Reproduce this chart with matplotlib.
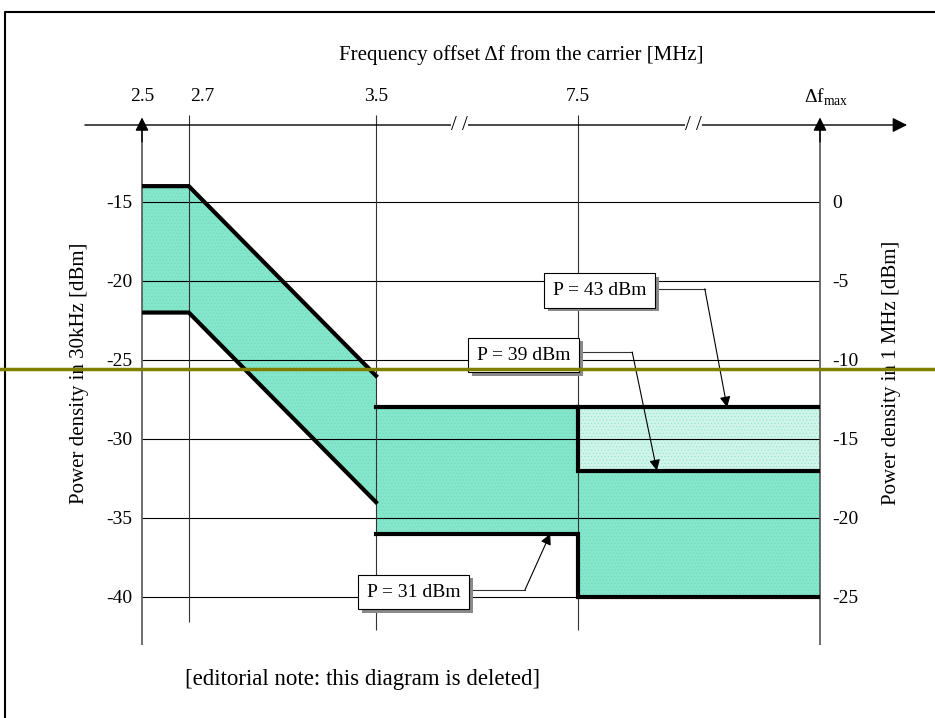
import numpy as np
import matplotlib.pyplot as plt
import matplotlib.patheffects as pe
from matplotlib import transforms
from matplotlib.lines import Line2D

plt.rcParams['font.family'] = ['Liberation Serif', 'DejaVu Serif']
plt.rcParams['mathtext.fontset'] = 'custom'
plt.rcParams['mathtext.rm'] = 'Liberation Serif'
plt.rcParams['axes.unicode_minus'] = False
plt.rcParams['hatch.linewidth'] = 0.4

# Δf_max has no number in the figure, put it at 12.5 on a broken axis
FMAX = 12.5
x_ticks = [2.5, 2.7, 3.5, 7.5, FMAX]
x_labels = ['2.5', '2.7', '3.5', '7.5', r'$\Delta$f$_{\mathrm{max}}$']
y_ticks = [-15, -20, -25, -30, -35, -40]
y_ticks_right = [0, -5, -10, -15, -20, -25]

# mask (power density in 30 kHz, dBm)
slope_f = [2.5, 2.7, 3.5]
slope_upper = [-14, -14, -26]
slope_lower = [-22, -22, -34]
p43_f = [3.5, FMAX]
p43 = [-28, -28]
p39_f = [7.5, 7.5, FMAX]
p39 = [-28, -32, -32]
p31_f = [3.5, 7.5, 7.5, FMAX]
p31 = [-36, -36, -40, -40]

# (text, box centre, elbow, arrow tip)
notes = [
    ('P = 43 dBm', (7.95, -20.6), (10.12, -20.5), (10.58, -28)),
    ('P = 39 dBm', (6.43, -24.7), (8.62, -24.5), (9.13, -32)),
    ('P = 31 dBm', (4.25, -39.7), (6.45, -39.55), (6.95, -36)),
]

# broken x axis: frequency -> drawing position
F_KNOTS = [0.0, 2.5, 3.5, 7.5, FMAX, 25.0]
P_KNOTS = [-585, 0, 234, 436, 678, 678 + 12.5 * 48.4]


def fwd(f):
    return np.interp(f, F_KNOTS, P_KNOTS)


def inv(p):
    return np.interp(p, P_KNOTS, F_KNOTS)


fig = plt.figure(figsize=(9.35, 7.18), dpi=100)
ax = fig.add_axes([142 / 935, 1 - 645 / 718, (820 - 142) / 935, (645 - 125) / 718])
ax.set_xscale('function', functions=(fwd, inv))
ax.set_xlim(2.5, FMAX)
y_bot, y_top = -43.04, -10.13
ax.set_ylim(y_bot, y_top)
for s in ax.spines.values():
    s.set_visible(False)
ax.set_xticks([])

teal = '#84E6CB'
light = '#CFF4EA'
ax.fill_between(slope_f, slope_lower, slope_upper, fc=teal, ec='#70d8ba', hatch='.....', lw=0, zorder=1)
ax.fill_between(p31_f[:2], p31[:2], p43[0], fc=teal, ec='#70d8ba', hatch='.....', lw=0, zorder=1)
ax.fill_between(p39_f[1:], p31[2:], p39[1:], fc=teal, ec='#70d8ba', hatch='.....', lw=0, zorder=1)
ax.fill_between(p39_f[1:], p39[1:], p43[0], fc=light, ec='#8fe3cc', hatch='.....', lw=0, zorder=1)

# grid
ax.hlines(y_ticks, 2.5, FMAX, color='k', lw=0.8, zorder=2)
ax.vlines([2.5, FMAX], y_bot, y_top + 0.3, color='#555555', lw=1.2, zorder=2, clip_on=False)
ax.vlines(x_ticks[1:4], [-41.6, -42.1, -42.1], -9.5, color='#333333', lw=0.8, zorder=2, clip_on=False)

# mask lines
for xs, ys in [(slope_f, slope_upper), (slope_f, slope_lower), (p43_f, p43), (p39_f, p39), (p31_f, p31)]:
    ax.plot(xs, ys, color='k', lw=3, solid_joinstyle='miter', zorder=3)

# top axis with arrow
ax.annotate('', xy=(14.3, y_top), xytext=(2.256, y_top), annotation_clip=False,
            arrowprops=dict(arrowstyle='-|>', color='k', lw=1, mutation_scale=22, shrinkA=0, shrinkB=0))
for x in [2.5, FMAX]:
    ax.annotate('', xy=(x, -9.65), xytext=(x, -11.2), annotation_clip=False,
                arrowprops=dict(arrowstyle='-|>', color='k', lw=1, mutation_scale=20, shrinkA=0, shrinkB=0))
for x in [5.16, 9.88]:
    ax.text(x, y_top, '/ /', ha='center', va='center', fontsize=15, clip_on=False,
            bbox=dict(boxstyle='square,pad=0.0', fc='white', ec='none'))

for x, lab in zip(x_ticks, x_labels):
    dx = 14 if lab == '2.7' else (6 if 'max' in lab else 0)
    tr = transforms.offset_copy(ax.transData, fig=fig, x=dx, y=0, units='dots')
    ax.text(x, -8.35, lab, transform=tr, ha='center', va='center', fontsize=14)
ax.text(6.37, -5.7, 'Frequency offset Δf from the carrier [MHz]', ha='center', va='center', fontsize=15)

# y axes
ax.set_yticks(y_ticks)
ax.tick_params(axis='y', length=0, pad=7, labelsize=14)
ax.set_ylabel('Power density in 30kHz [dBm]', fontsize=15, labelpad=12)
ax.yaxis.label.set_y(0.523)
sec = ax.secondary_yaxis('right', functions=(lambda v: v + 15, lambda v: v - 15))
sec.set_yticks(y_ticks_right)
sec.tick_params(axis='y', length=0, pad=9, labelsize=14)
sec.spines['right'].set_visible(False)
sec.set_ylabel('Power density in 1 MHz [dBm]', fontsize=15, labelpad=17)
sec.yaxis.label.set_y(0.523)

# labelled pointers
for txt, box, elbow, tip in notes:
    ax.plot([box[0], elbow[0]], [elbow[1], elbow[1]], color='#333333', lw=0.8, zorder=4)
    ax.annotate('', xy=tip, xytext=elbow, zorder=4,
                arrowprops=dict(arrowstyle='-|>', color='k', lw=0.8, mutation_scale=16, shrinkA=0, shrinkB=0))
    t = ax.text(box[0], box[1], txt, ha='center', va='center', fontsize=14, zorder=6,
                bbox=dict(boxstyle='square,pad=0.45', fc='white', ec='black', lw=0.8))
    t.get_bbox_patch().set_path_effects([
        pe.SimplePatchShadow(offset=(2.5, -2.5), shadow_rgbFace='#8a8a8a', alpha=1), pe.Normal()])

fig.text(185 / 935, 1 - 680 / 718, '[editorial note: this diagram is deleted]', ha='left', va='center', fontsize=16.5)

# page frame and the olive marker line
fig.add_artist(Line2D([5 / 935, 5 / 935, 1], [0, 1 - 12 / 718, 1 - 12 / 718], transform=fig.transFigure, color='k', lw=1.5))
fig.add_artist(Line2D([0, 1], [1 - 369 / 718] * 2, transform=fig.transFigure, color='#808000', lw=2.5, zorder=10))

fig.savefig('out.png', dpi=100)
